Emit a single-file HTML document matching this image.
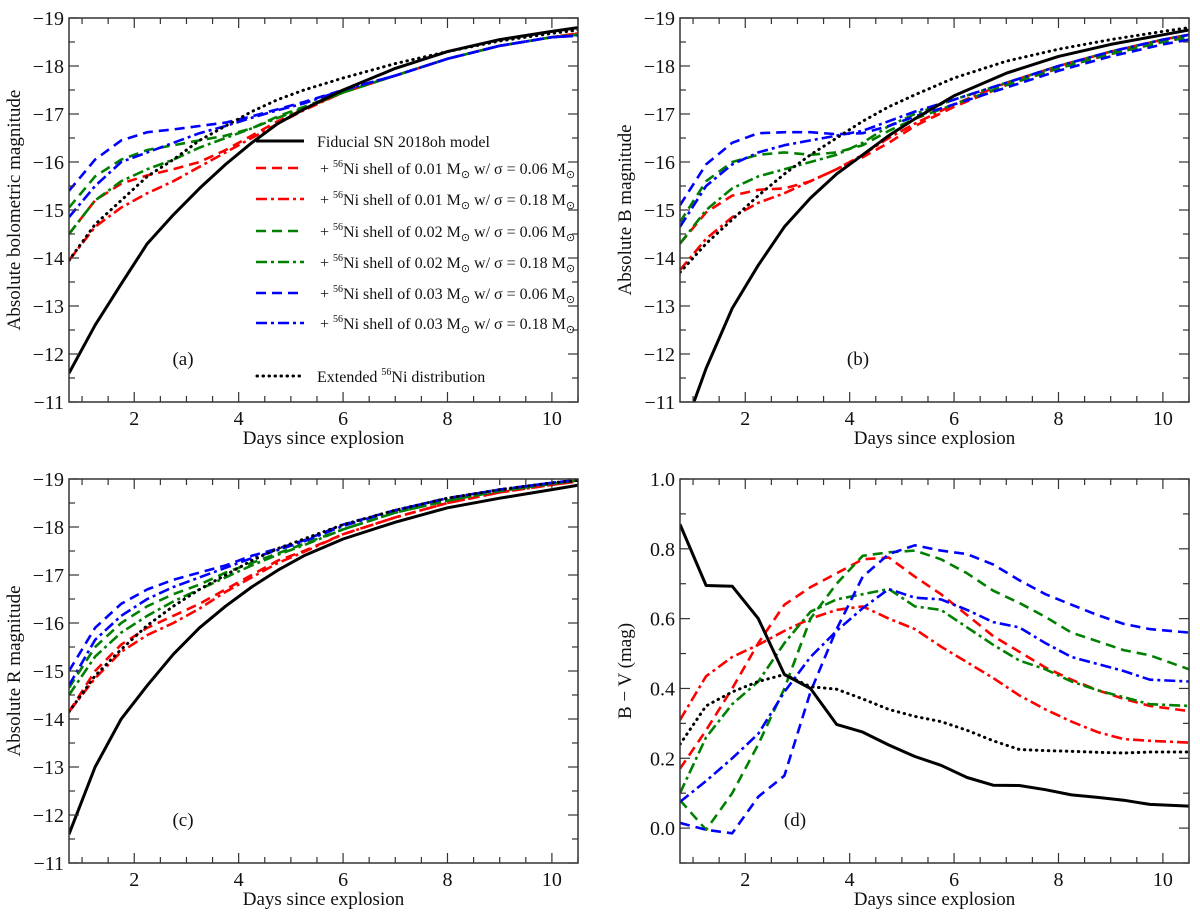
<!DOCTYPE html>
<html><head><meta charset="utf-8"><style>
html,body{margin:0;padding:0;background:#fff;}
svg{display:block;font-family:"Liberation Serif","DejaVu Serif",serif;}
</style></head><body>
<svg id="fig" width="1200" height="920" viewBox="0 0 1200 920" xmlns="http://www.w3.org/2000/svg">
<g font-family="Liberation Serif, serif" font-size="16" fill="#111">
 <g><line x1="256" y1="141" x2="304" y2="141" stroke="#000" stroke-width="3"/><text x="317" y="147">Fiducial SN 2018oh model</text></g>
 <g><line x1="256" y1="168" x2="304" y2="168" stroke="#f00" stroke-width="2.6" stroke-dasharray="10,6"/><text x="320" y="174">+ <tspan dy="-7" font-size="10">56</tspan><tspan dy="7">Ni shell of 0.01 M</tspan><tspan dy="4" font-size="11">⊙</tspan><tspan dy="-4"> w/ σ = 0.06 M</tspan><tspan dy="4" font-size="11">⊙</tspan></text></g>
 <g><line x1="256" y1="199" x2="304" y2="199" stroke="#f00" stroke-width="2.6" stroke-dasharray="11,4,3,4"/><text x="320" y="205">+ <tspan dy="-7" font-size="10">56</tspan><tspan dy="7">Ni shell of 0.01 M</tspan><tspan dy="4" font-size="11">⊙</tspan><tspan dy="-4"> w/ σ = 0.18 M</tspan><tspan dy="4" font-size="11">⊙</tspan></text></g>
 <g><line x1="256" y1="231" x2="304" y2="231" stroke="#008000" stroke-width="2.6" stroke-dasharray="10,6"/><text x="320" y="237">+ <tspan dy="-7" font-size="10">56</tspan><tspan dy="7">Ni shell of 0.02 M</tspan><tspan dy="4" font-size="11">⊙</tspan><tspan dy="-4"> w/ σ = 0.06 M</tspan><tspan dy="4" font-size="11">⊙</tspan></text></g>
 <g><line x1="256" y1="262" x2="304" y2="262" stroke="#008000" stroke-width="2.6" stroke-dasharray="11,4,3,4"/><text x="320" y="268">+ <tspan dy="-7" font-size="10">56</tspan><tspan dy="7">Ni shell of 0.02 M</tspan><tspan dy="4" font-size="11">⊙</tspan><tspan dy="-4"> w/ σ = 0.18 M</tspan><tspan dy="4" font-size="11">⊙</tspan></text></g>
 <g><line x1="256" y1="293" x2="304" y2="293" stroke="#00f" stroke-width="2.6" stroke-dasharray="10,6"/><text x="320" y="299">+ <tspan dy="-7" font-size="10">56</tspan><tspan dy="7">Ni shell of 0.03 M</tspan><tspan dy="4" font-size="11">⊙</tspan><tspan dy="-4"> w/ σ = 0.06 M</tspan><tspan dy="4" font-size="11">⊙</tspan></text></g>
 <g><line x1="256" y1="323" x2="304" y2="323" stroke="#00f" stroke-width="2.6" stroke-dasharray="11,4,3,4"/><text x="320" y="329">+ <tspan dy="-7" font-size="10">56</tspan><tspan dy="7">Ni shell of 0.03 M</tspan><tspan dy="4" font-size="11">⊙</tspan><tspan dy="-4"> w/ σ = 0.18 M</tspan><tspan dy="4" font-size="11">⊙</tspan></text></g>
 <g><line x1="257" y1="376" x2="304" y2="376" stroke="#000" stroke-width="3" stroke-dasharray="0.5,5.5" stroke-linecap="round"/><text x="317" y="382">Extended <tspan dy="-7" font-size="10">56</tspan><tspan dy="7">Ni distribution</tspan></text></g>
</g>
</svg>
<script>
// ---- data ----
const daysMag = [0.75,1.25,1.75,2.25,2.75,3.25,3.75,4.25,4.75,5.25,6,7,8,9,10,10.5];
const daysColor = [0.75,1.25,1.75,2.25,2.75,3.25,3.75,4.25,4.75,5.25,5.75,6.25,6.75,7.25,7.75,8.25,8.75,9.25,9.75,10.5];
const seriesNames = ["fiducial","extended","ni001-s006","ni001-s018","ni002-s006","ni002-s018","ni003-s006","ni003-s018"];
// panel a: bolometric
const aFid = [-11.6,-12.6,-13.46,-14.3,-14.9,-15.45,-15.95,-16.4,-16.8,-17.1,-17.5,-17.95,-18.3,-18.55,-18.72,-18.8];
const aExt = [-13.95,-14.7,-15.2,-15.7,-16.05,-16.45,-16.75,-17.05,-17.3,-17.5,-17.75,-18.05,-18.3,-18.52,-18.68,-18.75];
const aR1 = [-14.5,-15.2,-15.55,-15.72,-15.85,-16.0,-16.25,-16.55,-16.85,-17.1,-17.45,-17.8,-18.15,-18.42,-18.6,-18.68];
const aR2 = [-13.95,-14.65,-15.05,-15.35,-15.6,-15.9,-16.2,-16.5,-16.8,-17.08,-17.45,-17.8,-18.15,-18.42,-18.6,-18.68];
const aG1 = [-15.05,-15.7,-16.05,-16.25,-16.35,-16.45,-16.55,-16.7,-16.95,-17.15,-17.45,-17.8,-18.15,-18.42,-18.6,-18.65];
const aG2 = [-14.5,-15.2,-15.6,-15.85,-16.05,-16.3,-16.5,-16.7,-16.92,-17.12,-17.45,-17.8,-18.15,-18.42,-18.6,-18.65];
const aB1 = [-15.4,-16.05,-16.45,-16.62,-16.68,-16.75,-16.82,-16.95,-17.1,-17.25,-17.5,-17.8,-18.15,-18.42,-18.6,-18.63];
const aB2 = [-14.85,-15.5,-16.0,-16.2,-16.4,-16.6,-16.75,-16.92,-17.08,-17.22,-17.5,-17.8,-18.15,-18.42,-18.6,-18.63];
// panel b: B band
const bFid = [-10.2,-11.7,-12.95,-13.85,-14.65,-15.25,-15.75,-16.15,-16.55,-16.9,-17.38,-17.85,-18.2,-18.45,-18.65,-18.75];
const bExt = [-13.7,-14.3,-14.8,-15.3,-15.75,-16.15,-16.5,-16.85,-17.15,-17.4,-17.75,-18.1,-18.35,-18.55,-18.72,-18.8];
const bR1 = [-14.3,-14.95,-15.3,-15.42,-15.45,-15.6,-15.85,-16.1,-16.4,-16.75,-17.15,-17.6,-17.95,-18.25,-18.5,-18.62];
const bR2 = [-13.75,-14.4,-14.85,-15.15,-15.35,-15.6,-15.85,-16.15,-16.5,-16.8,-17.2,-17.65,-18.0,-18.3,-18.55,-18.65];
const bG1 = [-14.75,-15.6,-16.0,-16.15,-16.2,-16.15,-16.2,-16.35,-16.65,-16.9,-17.2,-17.6,-17.95,-18.25,-18.5,-18.6];
const bG2 = [-14.3,-15.0,-15.45,-15.7,-15.85,-16.0,-16.15,-16.4,-16.75,-17.0,-17.3,-17.65,-18.0,-18.3,-18.55,-18.65];
const bB1 = [-15.1,-15.95,-16.4,-16.6,-16.62,-16.62,-16.58,-16.6,-16.75,-16.95,-17.2,-17.55,-17.9,-18.2,-18.45,-18.55];
const bB2 = [-14.65,-15.5,-15.95,-16.2,-16.35,-16.45,-16.55,-16.65,-16.85,-17.05,-17.3,-17.65,-18.0,-18.3,-18.55,-18.65];
// panel c: R band
const cFid = [-11.6,-13.0,-14.0,-14.7,-15.35,-15.9,-16.35,-16.75,-17.1,-17.4,-17.75,-18.1,-18.4,-18.6,-18.78,-18.87];
const cExt = [-14.15,-14.9,-15.45,-15.95,-16.35,-16.7,-17.0,-17.3,-17.55,-17.75,-18.05,-18.35,-18.6,-18.78,-18.92,-18.97];
const cR1 = [-14.15,-15.0,-15.55,-15.9,-16.15,-16.4,-16.7,-17.0,-17.3,-17.5,-17.85,-18.2,-18.5,-18.72,-18.88,-18.95];
const cR2 = [-14.15,-14.85,-15.4,-15.75,-16.0,-16.3,-16.65,-16.95,-17.25,-17.48,-17.85,-18.2,-18.5,-18.72,-18.88,-18.95];
const cG1 = [-14.65,-15.5,-16.0,-16.35,-16.6,-16.8,-17.05,-17.25,-17.45,-17.65,-17.95,-18.3,-18.55,-18.75,-18.9,-18.97];
const cG2 = [-14.5,-15.3,-15.8,-16.15,-16.45,-16.7,-16.95,-17.2,-17.42,-17.62,-17.95,-18.3,-18.55,-18.75,-18.9,-18.97];
const cB1 = [-15.0,-15.9,-16.4,-16.7,-16.9,-17.05,-17.2,-17.4,-17.55,-17.72,-18.05,-18.35,-18.6,-18.78,-18.92,-18.98];
const cB2 = [-14.7,-15.65,-16.15,-16.5,-16.75,-16.95,-17.15,-17.35,-17.52,-17.7,-18.02,-18.35,-18.6,-18.78,-18.92,-18.98];
// panel d: B-V colour
const dFid = [0.87,0.695,0.693,0.60,0.44,0.40,0.297,0.275,0.238,0.205,0.18,0.145,0.123,0.122,0.11,0.095,0.088,0.08,0.068,0.063];
const dExt = [0.24,0.35,0.39,0.42,0.44,0.405,0.398,0.37,0.34,0.32,0.305,0.28,0.25,0.225,0.222,0.22,0.217,0.215,0.218,0.218];
const dR1 = [0.17,0.28,0.40,0.53,0.64,0.69,0.73,0.77,0.775,0.72,0.67,0.61,0.55,0.505,0.46,0.425,0.395,0.37,0.35,0.335];
const dR2 = [0.31,0.435,0.49,0.525,0.565,0.60,0.625,0.635,0.60,0.57,0.52,0.475,0.43,0.38,0.34,0.305,0.275,0.255,0.25,0.245];
const dG1 = [0.08,-0.005,0.10,0.24,0.40,0.60,0.70,0.78,0.79,0.795,0.77,0.73,0.68,0.645,0.605,0.56,0.535,0.51,0.495,0.455];
const dG2 = [0.10,0.26,0.355,0.42,0.53,0.62,0.655,0.67,0.685,0.635,0.625,0.575,0.525,0.48,0.455,0.42,0.395,0.375,0.355,0.35];
const dB1 = [0.015,-0.005,-0.015,0.09,0.15,0.39,0.57,0.72,0.785,0.81,0.795,0.785,0.755,0.71,0.67,0.64,0.61,0.585,0.57,0.56];
const dB2 = [0.075,0.135,0.20,0.27,0.39,0.49,0.565,0.63,0.685,0.66,0.655,0.625,0.59,0.575,0.53,0.49,0.47,0.45,0.425,0.42];
const magTicks = [-19,-18,-17,-16,-15,-14,-13,-12,-11];
const colorTicks = [0.0,0.2,0.4,0.6,0.8,1.0];
const dayTicks = [2,4,6,8,10];

const NS="http://www.w3.org/2000/svg";
const svg=document.getElementById('fig');
function el(tag,attrs,parent){const e=document.createElementNS(NS,tag);for(const k in attrs)e.setAttribute(k,attrs[k]);(parent||svg).appendChild(e);return e;}

const styles=[
 {c:"#000",w:3,d:""},
 {c:"#000",w:3,d:"0.5,5.5"},
 {c:"#ff0000",w:2.6,d:"10,6"},
 {c:"#ff0000",w:2.6,d:"11,4,3,4"},
 {c:"#008000",w:2.6,d:"10,6"},
 {c:"#008000",w:2.6,d:"11,4,3,4"},
 {c:"#0000ff",w:2.6,d:"10,6"},
 {c:"#0000ff",w:2.6,d:"11,4,3,4"}
];

function panel(o){
  const g=el('g',{});
  
  
  const L=o.x0,R=o.x1,T=o.y0,B=o.y1;
  const xs=v=>L+(v-0.75)/(10.5-0.75)*(R-L);
  const ys=v=>T+(v-o.ytop)/(o.ybot-o.ytop)*(B-T);
  const cp=el('clipPath',{id:'clip-'+o.id},g);
  el('rect',{x:L,y:T,width:R-L,height:B-T},cp);
  const sg=el('g',{'clip-path':'url(#clip-'+o.id+')'},g);
  const order=[2,3,4,5,6,7,1,0];
  order.forEach(i=>{
    const vals=o.series[i];
    const d=vals.map((v,k)=>(k?'L':'M')+xs(o.days[k]).toFixed(1)+','+ys(v).toFixed(1)).join(' ');
    const p=el('path',{d:d,fill:'none',stroke:styles[i].c,'stroke-width':styles[i].w,'stroke-dasharray':styles[i].d,'stroke-linecap':i===1?'round':'butt','stroke-linejoin':'round'},sg);
    
    
  });
  const fr=el('rect',{x:L,y:T,width:R-L,height:B-T,fill:'none',stroke:'#333','stroke-width':1.5},g);
  
  
  for(let v=1;v<=10.5;v+=0.5){
    const x=xs(v);const major=dayTicks.includes(v);const len=major?10:6;
    el('line',{x1:x,y1:B,x2:x,y2:B-len,stroke:'#333','stroke-width':1.2},g);
    el('line',{x1:x,y1:T,x2:x,y2:T+len,stroke:'#333','stroke-width':1.2},g);
  }
  dayTicks.forEach(v=>{
    const t=el('text',{x:xs(v),y:B+23,'font-size':20,'text-anchor':'middle',fill:'#111'},g);
    t.textContent=v;
    
    
  });
  const lo=Math.min(o.ytop,o.ybot),hi=Math.max(o.ytop,o.ybot);
  const nm=Math.round((hi-lo)/o.minor);
  for(let k=0;k<=nm;k++){
    const v=lo+k*o.minor;const y=ys(v);
    const major=o.ticks.some(t=>Math.abs(t-v)<1e-6);const len=major?10:6;
    el('line',{x1:L,y1:y,x2:L+len,y2:y,stroke:'#333','stroke-width':1.2},g);
    el('line',{x1:R,y1:y,x2:R-len,y2:y,stroke:'#333','stroke-width':1.2},g);
  }
  o.ticks.forEach(v=>{
    const t=el('text',{x:L-5,y:ys(v)+7,'font-size':20,'text-anchor':'end',fill:'#111'},g);
    t.textContent=o.fmt(v);
    
    
  });
  const xl=el('text',{x:(L+R)/2,y:B+42,'font-size':19,'text-anchor':'middle',fill:'#111'},g);
  xl.textContent='Days since explosion';
  
  
  const yl=el('text',{x:0,y:0,'font-size':19,'text-anchor':'middle',fill:'#111',transform:'translate('+(L-49)+','+((T+B)/2)+') rotate(-90)'},g);
  yl.textContent=o.ylabel;
  
  
  const pl=el('text',{x:o.lx,y:o.ly,'font-size':19,'text-anchor':'middle',fill:'#111'},g);
  pl.textContent=o.label;
  
  
}
const magFmt=v=>'\u2212'+Math.abs(v);
panel({id:'a',x0:69,x1:578,y0:18,y1:402,ytop:-19,ybot:-11,minor:0.5,ticks:magTicks,fmt:magFmt,days:daysMag,
  series:[aFid,aExt,aR1,aR2,aG1,aG2,aB1,aB2],ylabel:'Absolute bolometric magnitude',label:'(a)',lx:183,ly:365});
panel({id:'b',x0:680,x1:1189,y0:18,y1:402,ytop:-19,ybot:-11,minor:0.5,ticks:magTicks,fmt:magFmt,days:daysMag,
  series:[bFid,bExt,bR1,bR2,bG1,bG2,bB1,bB2],ylabel:'Absolute B magnitude',label:'(b)',lx:858,ly:365});
panel({id:'c',x0:69,x1:578,y0:479,y1:863,ytop:-19,ybot:-11,minor:0.5,ticks:magTicks,fmt:magFmt,days:daysMag,
  series:[cFid,cExt,cR1,cR2,cG1,cG2,cB1,cB2],ylabel:'Absolute R magnitude',label:'(c)',lx:183,ly:826});
panel({id:'d',x0:680,x1:1189,y0:479,y1:863,ytop:1.0,ybot:-0.1,minor:0.1,ticks:colorTicks,fmt:v=>v.toFixed(1),days:daysColor,
  series:[dFid,dExt,dR1,dR2,dG1,dG2,dB1,dB2],ylabel:'B \u2212 V (mag)',label:'(d)',lx:795,ly:826});
</script>
</body></html>
